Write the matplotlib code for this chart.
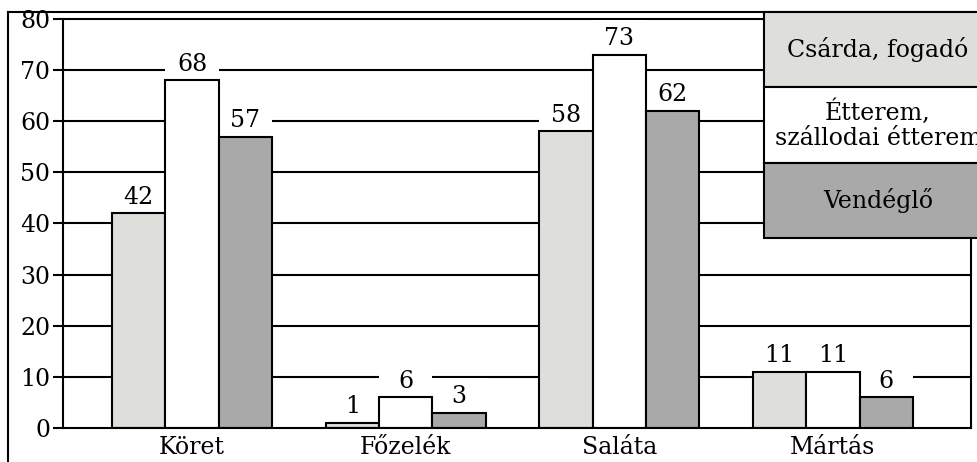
import matplotlib
matplotlib.use("Agg")
import matplotlib.pyplot as plt
from matplotlib.patches import Rectangle
from matplotlib.lines import Line2D
import numpy as np

categories = ["Köret", "Főzelék", "Saláta", "Mártás"]
series_names = ["Csárda, fogadó", "Étterem,\nszállodai étterem", "Vendéglő"]
csarda = [42, 1, 58, 11]
etterem = [68, 6, 73, 11]
vendeglo = [57, 3, 62, 6]
y_ticks = [0, 10, 20, 30, 40, 50, 60, 70, 80]

series = [csarda, etterem, vendeglo]
colors = ["#dededa", "#ffffff", "#a9a9a9"]

plt.rcParams["font.family"] = ["DejaVu Serif"]
FS = 17
LW = 1.5

W, H = 978, 462
fig = plt.figure(figsize=(W / 100, H / 100), dpi=100)
ax = fig.add_axes([63 / W, 1 - 428 / H, (971 - 63) / W, (428 - 19) / H])

x = np.arange(len(categories))
width = 0.25
offsets = [-width, 0, width]

# horizontal grid lines behind everything
for yv in y_ticks[1:]:
    ax.axhline(yv, color="black", lw=LW, zorder=1, clip_on=False)

for vals, col, off in zip(series, colors, offsets):
    xs = x + off
    # white strip above each bar that interrupts the grid lines behind the label
    ax.bar(xs, [6.8] * len(vals), width=width, bottom=vals, color="white",
           linewidth=0, zorder=1.5)
    ax.bar(xs, vals, width=width, color=col, edgecolor="black",
           linewidth=LW, zorder=2)
    for xi, v in zip(xs, vals):
        ax.text(xi, v + 0.9, str(v), ha="center", va="bottom", fontsize=FS,
                zorder=3)

ax.set_xlim(-0.604, 3.646)
ax.set_ylim(0, 80)
ax.set_yticks(y_ticks)
ax.set_xticks(x)
ax.set_xticklabels(categories, fontsize=FS)
ax.tick_params(axis="y", length=7, width=LW, pad=2, labelsize=FS)
ax.tick_params(axis="x", length=0, pad=6)
ax.spines["top"].set_visible(False)
for s in ["left", "bottom", "right"]:
    ax.spines[s].set_linewidth(LW)
    ax.spines[s].set_zorder(4)

# outer frame (left and top edges)
ft = fig.transFigure
fig.add_artist(Line2D([8 / W, 8 / W], [0, 1 - 12 / H], transform=ft,
                      color="black", lw=LW))
fig.add_artist(Line2D([8 / W, 1], [1 - 12 / H, 1 - 12 / H], transform=ft,
                      color="black", lw=LW))

# legend box with three stacked sections
bx0, bx1 = 764, 992
bounds = [12, 87, 163, 238]
for i, (name, col) in enumerate(zip(series_names, colors)):
    top, bot = bounds[i], bounds[i + 1]
    fig.add_artist(Rectangle((bx0 / W, 1 - bot / H), (bx1 - bx0) / W,
                             (bot - top) / H, transform=ft, facecolor=col,
                             edgecolor="black", linewidth=LW, zorder=5))
    fig.text((bx0 + bx1) / 2 / W, 1 - (top + bot) / 2 / H, name,
             ha="center", va="center", fontsize=FS, linespacing=1.1,
             zorder=6)

fig.savefig("out.png", dpi=100)
